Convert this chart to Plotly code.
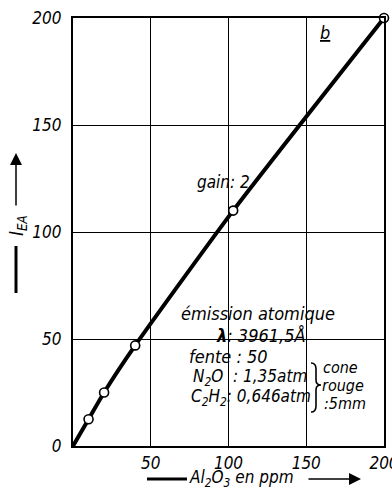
import plotly.graph_objects as go

# ---- data ----
conc_ppm = [10, 20, 40, 103, 200]          # Al2O3 en ppm (measured points)
intensity = [12.5, 25, 47, 110, 200]       # I_EA
curve_x = [0, 10, 20, 40, 103, 200]
curve_y = [0, 12.5, 25, 47, 110, 200]
x_ticks = [50, 100, 150, 200]
y_ticks = [0, 50, 100, 150, 200]

W, H = 392, 490
L, R, T, B = 73, 8, 18, 44
PW, PH = W - L - R, H - T - B

def px(x):
    return (x - L) / PW

def py(y):
    return (H - B - y) / PH

FONT = "DejaVu Sans Condensed, Liberation Sans Narrow, sans-serif"
f = dict(family=FONT, size=18, color="black", style="italic")

fig = go.Figure()
fig.add_trace(go.Scatter(x=curve_x, y=curve_y, mode="lines",
                         line=dict(color="black", width=4, shape="spline", smoothing=0.6),
                         hoverinfo="skip", showlegend=False))
fig.add_trace(go.Scatter(x=conc_ppm, y=intensity, mode="markers",
                         marker=dict(size=9, color="white", line=dict(color="black", width=1.6)),
                         showlegend=False, cliponaxis=False))

ann = []
def text(t, x, y, xanchor="left", size=18, **kw):
    ann.append(dict(text=t, x=px(x), y=py(y), xref="paper", yref="paper",
                    xanchor=xanchor, yanchor="middle", showarrow=False,
                    font=dict(f, size=size), **kw))

text("gain: 2", 223, 182, xanchor="center", size=17)
text("<u>b</u>", 325, 33, xanchor="center", size=18)
text("émission atomique", 179, 313)
text("<b>λ</b>: 3961,5Å", 214, 335)
text("fente : 50", 187, 356)
text("N<sub>2</sub>O  : 1,35atm", 191, 377, size=17)
text("C<sub>2</sub>H<sub>2</sub>: 0,646atm", 189, 397, size=17)
text("cone", 321, 367, size=16)
text("rouge", 320, 385, size=16)
text(":5mm", 322, 403, size=16)

# axis titles
text("Al<sub>2</sub>O<sub>3</sub> en ppm", 187, 479, size=17)
ann.append(dict(text="I<sub>EA</sub>", x=px(17), y=py(226), xref="paper", yref="paper",
                textangle=-90, xanchor="center", yanchor="middle", showarrow=False,
                font=dict(f, size=19)))
# arrows
ann.append(dict(text="", x=px(361), y=py(479), xref="paper", yref="paper",
                ax=-54, ay=0, showarrow=True, arrowhead=2, arrowsize=1.6,
                arrowwidth=1.5, arrowcolor="black"))
ann.append(dict(text="", x=px(16), y=py(153), xref="paper", yref="paper",
                ax=0, ay=54, showarrow=True, arrowhead=2, arrowsize=1.6,
                arrowwidth=1.5, arrowcolor="black"))

# curly brace drawn as a path (pixel positions converted to paper fractions)
brace_pts = [("M", [(311, 363)]), ("Q", [(316, 363), (316, 369)]), ("L", [(316, 380)]),
             ("Q", [(316, 385), (321, 385)]), ("Q", [(316, 385), (316, 390)]),
             ("L", [(316, 406)]), ("Q", [(316, 412), (311, 412)])]
brace_path = " ".join(cmd + " " + " ".join(f"{px(a):.5f},{py(b):.5f}" for a, b in pts)
                      for cmd, pts in brace_pts)

shapes = [
    dict(type="line", xref="paper", yref="paper", x0=px(147), x1=px(187),
         y0=py(479), y1=py(479), line=dict(color="black", width=3)),
    dict(type="line", xref="paper", yref="paper", x0=px(16), x1=px(16),
         y0=py(246), y1=py(293), line=dict(color="black", width=3)),
    # white masks behind text block (cover grid lines)
    dict(type="rect", xref="paper", yref="paper", x0=px(177), x1=px(340),
         y0=py(298), y1=py(328), fillcolor="white", line_width=0, layer="between"),
    dict(type="rect", xref="paper", yref="paper", x0=px(213), x1=px(304),
         y0=py(326), y1=py(346), fillcolor="white", line_width=0, layer="between"),
    dict(type="rect", xref="paper", yref="paper", x0=px(185), x1=px(302),
         y0=py(345), y1=py(414), fillcolor="white", line_width=0, layer="between"),
    dict(type="path", xref="paper", yref="paper", path=brace_path,
         line=dict(color="black", width=1.6)),
]

axis_common = dict(showgrid=True, gridcolor="black", gridwidth=1.2,
                   showline=True, linecolor="black", linewidth=2.2, mirror=True,
                   ticks="", zeroline=False, tickfont=dict(f, size=17),
                   ticklabeloverflow="allow", automargin=False)
fig.update_layout(
    width=W, height=H, margin=dict(l=L, r=R, t=T, b=B, pad=0, autoexpand=False),
    paper_bgcolor="white", plot_bgcolor="white",
    xaxis=dict(axis_common, range=[0, 200], tickvals=x_ticks, ticklabelstandoff=0),
    yaxis=dict(axis_common, range=[0, 200], tickvals=y_ticks, ticklabelstandoff=6),
    annotations=ann, shapes=shapes, showlegend=False,
)
fig.write_html("out.html")
